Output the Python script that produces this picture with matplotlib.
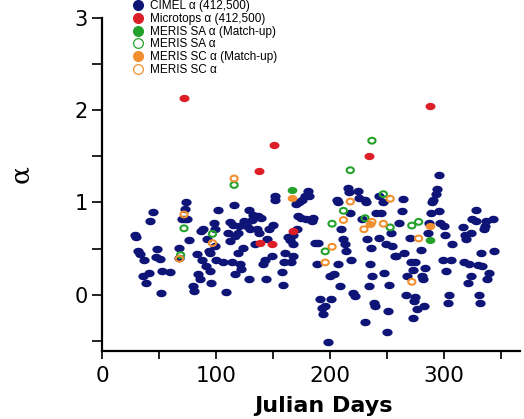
import numpy as np
import matplotlib
matplotlib.use("Agg")
import matplotlib.pyplot as plt
from matplotlib.lines import Line2D

# ---------------- data ----------------
cimel_day = [29, 30, 32, 33, 37, 36, 39, 41, 45, 42, 47, 48, 51, 52, 53, 60,
             68, 68, 70, 73, 74, 73, 75, 76, 80, 81, 83, 84, 86, 87, 88, 89, 91, 92, 94, 95, 96, 95, 98, 99, 99,
             102, 100, 106, 109, 111, 112, 112, 114, 115, 116, 117, 117, 119, 119, 120, 121, 122, 124, 125, 127,
             129, 129, 130, 132, 133, 134, 136,
             137, 138, 140, 141, 143, 144, 145, 147, 149, 150, 152, 152, 158, 159, 160, 161, 163, 165, 166, 168, 168, 168,
             171, 170, 172, 173, 175, 176, 178, 179, 181, 182, 184, 185, 187, 190, 189, 191, 193, 194, 196, 198, 200, 201,
             204, 206, 207, 207, 209, 210, 212, 213, 214, 216, 217, 218, 219, 220, 222, 225, 226, 228, 231, 231, 232, 233,
             234, 235, 236, 237,
             239, 240, 241, 243, 243, 245, 247, 248, 249, 250, 251, 252, 254, 255, 257, 258, 261, 263, 264, 265, 267, 268,
             270, 271, 273,
             273, 274, 275, 275, 277, 280, 281, 282, 283, 284, 286, 287, 289, 290, 291, 293, 294, 296, 296, 297, 299, 300,
             301, 302, 304, 305,
             306, 307, 317, 318, 319, 320, 321, 322, 324, 324, 325, 328, 328, 330, 331, 332, 333, 334, 335, 336, 337, 338,
             340, 343, 344]
cimel_alpha = [0.65, 0.63, 0.47, 0.44, 0.38, 0.20, 0.13, 0.24, 0.90, 0.80, 0.41, 0.50, 0.39, 0.02, 0.26, 0.25,
               0.51, 0.40, 0.82, 0.82, 1.00, 0.93, 0.82, 0.59, 0.09, 0.04, 0.44, 0.22, 0.17, 0.69, 0.38, 0.71, 0.31, 0.60,
               0.47, 0.26, 0.13, 0.45, 0.78, 0.71, 0.53,
               0.92, 0.38, 0.35, 0.03, 0.67, 0.58, 0.79, 0.36, 0.76, 0.97, 0.64, 0.22, 0.67, 0.45, 0.74, 0.33, 0.28, 0.51,
               0.80, 0.74, 0.17, 0.92, 0.71, 0.81, 0.86, 0.55, 0.71,
               0.85, 0.67, 0.83, 0.33, 0.38, 0.17, 0.60, 0.71, 0.42, 0.76, 1.07, 1.03, 0.25, 0.11, 0.35, 0.45, 0.63, 0.59,
               0.35, 0.65, 0.55, 0.42,
               0.71, 0.98, 0.85, 1.01, 0.83, 1.03, 1.07, 0.82, 1.12, 1.07, 0.80, 0.83, 0.56, 0.56, 0.33, -0.05, -0.14,
               -0.21, -0.12, -0.51, 0.20, -0.05,
               0.22, 1.03, 1.00, 0.33, 0.09, 0.71, 0.60, 0.55, 0.47, 1.16, 1.11, 0.89, 0.38, 0.02, -0.01, 1.12, 1.05, 0.82,
               -0.30, 1.03, 1.00, 0.60, 0.09, 0.33, 0.51, 0.20,
               -0.09, -0.12, 0.89, 1.07, 0.62, 0.89, 1.00, 0.24, 0.55, -0.40, -0.18, 0.11, 0.67, 0.53, 0.42, 0.42, 0.78,
               0.91, 1.04, 0.45, 0.00, 0.20, 0.62, 0.36, 0.27,
               -0.25, -0.07, 0.35, -0.03, -0.16, 0.49, 0.20, 0.17, -0.12, 0.29, 0.67, 0.78, 0.89, 1.00, 1.03, 1.09, 1.15,
               1.30, 0.91, 0.78, 0.38, 0.74, 0.65, 0.26, -0.09, 0.00,
               0.38, 0.55, 0.73, 0.35, 0.65, 0.60, 0.13, 0.33, 0.67, 0.20, 0.82, 0.92, 0.80, 0.32, 0.00, -0.09, 0.45, 0.31,
               0.71, 0.74, 0.80, 0.17, 0.24, 0.82, 0.47]

micro_day = [72, 138, 139, 149, 151, 168, 234, 288]
micro_alpha = [2.13, 1.34, 0.56, 0.55, 1.62, 0.69, 1.50, 2.05]

sa_match_day = [167, 288]
sa_match_alpha = [1.13, 0.59]

sa_day = [69, 72, 97, 116, 196, 202, 212, 218, 231, 237, 247, 253, 272, 278]
sa_alpha = [0.43, 0.72, 0.66, 1.19, 0.47, 0.77, 0.91, 1.35, 0.83, 1.67, 1.09, 0.73, 0.75, 0.79]

sc_match_day = [167, 235, 288]
sc_match_alpha = [1.05, 0.77, 0.74]

sc_day = [68, 72, 97, 116, 196, 202, 212, 218, 230, 237, 247, 253, 272, 278]
sc_alpha = [0.39, 0.87, 0.56, 1.26, 0.35, 0.52, 0.81, 1.01, 0.71, 0.79, 0.77, 1.04, 0.14, 0.61]

labels = ["CIMEL \u03b1 (412,500)", "Microtops \u03b1 (412,500)", "MERIS SA \u03b1 (Match-up)",
          "MERIS SA \u03b1", "MERIS SC \u03b1 (Match-up)", "MERIS SC \u03b1"]

# ---------------- style ----------------
NAVY = "#0f1577"
RED = "#dc1f26"
GREEN = "#23a12b"
ORANGE = "#f28f2e"

t = np.linspace(0, 2 * np.pi, 40)
ELL = np.column_stack([1.37 * np.cos(t), np.sin(t)])
RING = np.column_stack([1.25 * np.cos(t), np.sin(t)])

plt.rcParams['font.family'] = ['Liberation Sans', 'DejaVu Sans']

fig = plt.figure(figsize=(5.24, 4.19), dpi=100)
W, H = 524, 419
ax = fig.add_axes([102 / W, 1 - 351 / H, (520 - 102) / W, (351 - 18) / H])

ax.scatter(cimel_day, cimel_alpha, marker=ELL, s=7.4 ** 2, color=NAVY, linewidths=0, zorder=2)
ax.scatter(micro_day, micro_alpha, marker=ELL, s=7.2 ** 2, color=RED, linewidths=0, zorder=3)
ax.scatter(sa_match_day, sa_match_alpha, marker=ELL, s=7.0 ** 2, color=GREEN, linewidths=0, zorder=3)
ax.scatter(sa_day, sa_alpha, marker=RING, s=5.2 ** 2, facecolors='none', edgecolors=GREEN, linewidths=1.5, zorder=4)
ax.scatter(sc_match_day, sc_match_alpha, marker=ELL, s=7.0 ** 2, color=ORANGE, linewidths=0, zorder=4)
ax.scatter(sc_day, sc_alpha, marker=RING, s=5.2 ** 2, facecolors='none', edgecolors=ORANGE, linewidths=1.5, zorder=5)

ax.set_xlim(0, 367)
ax.set_ylim(-0.61, 3.0)
ax.set_xticks([0, 100, 200, 300])
ax.set_xticks([50, 150, 250, 350], minor=True)
ax.set_yticks([0, 1, 2, 3])
ax.set_yticks([-0.5, 0.5, 1.5, 2.5], minor=True)

for s in ['top', 'right']:
    ax.spines[s].set_visible(False)
for s in ['left', 'bottom']:
    ax.spines[s].set_linewidth(1.6)
ax.tick_params(which='both', direction='out', length=6, width=1.4, color='#222222')
ax.tick_params(axis='y', which='both', length=7)
ax.tick_params(axis='x', labelsize=15.5, pad=5)
ax.tick_params(axis='y', labelsize=15, pad=3)
for lab in ax.get_xticklabels() + ax.get_yticklabels():
    lab.set_fontfamily(['DejaVu Sans'])

ax.set_xlabel("Julian Days", fontsize=16, fontweight='bold', family=['DejaVu Sans'])
ax.xaxis.set_label_coords(0.53, -0.135)
ax.set_ylabel("\u03b1", fontsize=19, family=['DejaVu Serif'])
ax.yaxis.set_label_coords(-0.165, 0.53)

handles = [
    Line2D([], [], linestyle='none', marker='o', markersize=8, color=NAVY, markeredgewidth=0),
    Line2D([], [], linestyle='none', marker='o', markersize=8, color=RED, markeredgewidth=0),
    Line2D([], [], linestyle='none', marker='o', markersize=8, color=GREEN, markeredgewidth=0),
    Line2D([], [], linestyle='none', marker='o', markersize=7, markerfacecolor='none',
           markeredgecolor=GREEN, markeredgewidth=0.9),
    Line2D([], [], linestyle='none', marker='o', markersize=8, color=ORANGE, markeredgewidth=0),
    Line2D([], [], linestyle='none', marker='o', markersize=7, markerfacecolor='none',
           markeredgecolor=ORANGE, markeredgewidth=0.9),
]
leg = fig.legend(handles, labels, loc='upper left', bbox_to_anchor=(133 / W, 1 - 0 / H),
                 frameon=False, fontsize=8.5, handlelength=0.9, handletextpad=0.55,
                 labelspacing=0.07, borderpad=0.0, borderaxespad=0.0)

fig.savefig("out.png", dpi=100)
